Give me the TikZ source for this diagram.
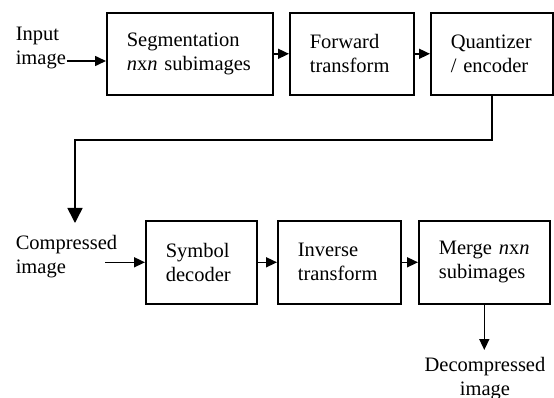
\documentclass[tikz,border=0pt]{standalone}
\usepackage{fontspec}
\setmainfont{Liberation Serif}
\usepackage{tikz}
\usetikzlibrary{arrows.meta}

\begin{document}
\begin{tikzpicture}[x=1pt,y=-1pt,line width=1.6pt,
  font=\fontsize{20.5}{24}\selectfont,
  blk/.style={draw,align=left,inner xsep=20pt,inner ysep=0pt,minimum height=82pt,anchor=north west},
  lbl/.style={align=left,inner sep=0pt,anchor=north west},
  arr/.style={-{Triangle[length=11pt,width=10pt]}},
  bigarr/.style={-{Triangle[length=15pt,width=15pt]}}]
\useasboundingbox (0,0) rectangle (554,398);
% coding chain
\node[lbl] (input) at (15,26) {Input\\image};
\node[blk,text width=126pt] (seg) at (106,12) {Segmentation\\\textit{n}x\textit{n} subimages};
\node[blk,text width=84pt] (fwd) at (289,12) {Forward\\transform};
\node[blk,text width=82pt] (quant) at (430,12) {Quantizer\\/ encoder};
\draw[arr] (input.east |- 0,61) -- (seg.west |- 0,61);
\draw[arr] (seg) -- (fwd);
\draw[arr] (fwd) -- (quant);
% down to the decoding chain
\coordinate (drop) at (75,223);
\draw[bigarr] (quant.south) |- (drop |- 0,140) -- (drop);
% decoding chain
\node[lbl] (comp) at (15,234) {Compressed\\image};
\node[blk,text width=71pt,minimum height=83pt] (sym) at (145,220) {Symbol\\decoder};
\node[blk,text width=83pt,minimum height=83pt] (inv) at (277,220) {Inverse\\transform};
\node[blk,text width=91pt,minimum height=83pt] (merge) at (418,220) {Merge \textit{n}x\textit{n}\\subimages};
\node[align=center,inner sep=0pt,anchor=north] (decomp) at (485,356) {Decompressed\\image};
\draw[arr] ([xshift=-40pt]sym.west) -- (sym.west);
\draw[arr] (sym) -- (inv);
\draw[arr] (inv) -- (merge);
\draw[arr] (merge.south) -- (merge.south |- 0,350);
\end{tikzpicture}
\end{document}
